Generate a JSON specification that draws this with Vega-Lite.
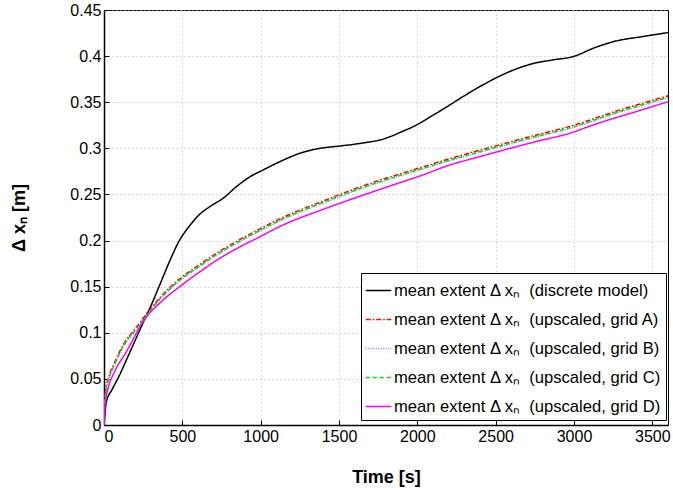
{
  "$schema": "https://vega.github.io/schema/vega-lite/v6.json",
  "autosize": "none",
  "width": 564,
  "height": 415,
  "padding": {"left": 104, "top": 10, "right": 5, "bottom": 67},
  "background": "white",
  "config": {
    "font": "Liberation Sans",
    "view": {"stroke": "black", "strokeWidth": 1},
    "axis": {
      "domainColor": "black",
      "domainWidth": 1.5,
      "tickColor": "black",
      "tickSize": -5,
      "labelPadding": 8,
      "labelFontSize": 16,
      "labelColor": "black",
      "labelFont": "Liberation Sans",
      "titleFont": "Liberation Sans",
      "titleFontSize": 18,
      "titleFontWeight": "bold",
      "titleColor": "black",
      "gridColor": "#b4b4b4",
      "gridDash": [1, 3],
      "gridWidth": 1
    },
    "legend": {
      "orient": "none",
      "legendX": 257,
      "legendY": 263,
      "strokeColor": "black",
      "fillColor": "white",
      "padding": 4,
      "symbolType": "stroke",
      "symbolSize": 650,
      "symbolStrokeWidth": 1.5,
      "labelFont": "Liberation Sans",
      "labelFontSize": 16.6,
      "labelColor": "black",
      "labelLimit": 400,
      "rowPadding": 6,
      "labelOffset": 2
    }
  },
  "data": {
    "values": [
      {"s":"discrete","t":0,"v":0},{"s":"discrete","t":4,"v":0.008},{"s":"discrete","t":15,"v":0.025},{"s":"discrete","t":50,"v":0.038},{"s":"discrete","t":89,"v":0.0506},{"s":"discrete","t":164,"v":0.0785},{"s":"discrete","t":239,"v":0.107},{"s":"discrete","t":313,"v":0.1345},{"s":"discrete","t":356,"v":0.152},{"s":"discrete","t":420,"v":0.178},{"s":"discrete","t":483,"v":0.2006},{"s":"discrete","t":526,"v":0.2115},{"s":"discrete","t":570,"v":0.221},{"s":"discrete","t":611,"v":0.2285},{"s":"discrete","t":675,"v":0.2367},{"s":"discrete","t":760,"v":0.2458},{"s":"discrete","t":845,"v":0.2584},{"s":"discrete","t":930,"v":0.269},{"s":"discrete","t":1015,"v":0.2765},{"s":"discrete","t":1122,"v":0.2855},{"s":"discrete","t":1250,"v":0.2946},{"s":"discrete","t":1378,"v":0.3},{"s":"discrete","t":1505,"v":0.3025},{"s":"discrete","t":1600,"v":0.3045},{"s":"discrete","t":1697,"v":0.307},{"s":"discrete","t":1761,"v":0.309},{"s":"discrete","t":1825,"v":0.3126},{"s":"discrete","t":1900,"v":0.318},{"s":"discrete","t":1974,"v":0.3235},{"s":"discrete","t":2101,"v":0.336},{"s":"discrete","t":2207,"v":0.347},{"s":"discrete","t":2300,"v":0.357},{"s":"discrete","t":2421,"v":0.369},{"s":"discrete","t":2515,"v":0.3775},{"s":"discrete","t":2630,"v":0.386},{"s":"discrete","t":2740,"v":0.392},{"s":"discrete","t":2870,"v":0.396},{"s":"discrete","t":2995,"v":0.3995},{"s":"discrete","t":3130,"v":0.409},{"s":"discrete","t":3272,"v":0.4165},{"s":"discrete","t":3430,"v":0.421},{"s":"discrete","t":3600,"v":0.4255},

      {"s":"A","t":0,"v":0},{"s":"A","t":3,"v":0.026},{"s":"A","t":11,"v":0.038},{"s":"A","t":30,"v":0.052},{"s":"A","t":68,"v":0.068},{"s":"A","t":132,"v":0.0895},{"s":"A","t":196,"v":0.1035},{"s":"A","t":260,"v":0.118},{"s":"A","t":356,"v":0.138},{"s":"A","t":483,"v":0.1585},{"s":"A","t":611,"v":0.174},{"s":"A","t":739,"v":0.1885},{"s":"A","t":866,"v":0.201},{"s":"A","t":994,"v":0.2125},{"s":"A","t":1122,"v":0.2235},{"s":"A","t":1250,"v":0.233},{"s":"A","t":1378,"v":0.2415},{"s":"A","t":1505,"v":0.25},{"s":"A","t":1633,"v":0.258},{"s":"A","t":1761,"v":0.2655},{"s":"A","t":1890,"v":0.2723},{"s":"A","t":2016,"v":0.2788},{"s":"A","t":2207,"v":0.2888},{"s":"A","t":2399,"v":0.298},{"s":"A","t":2516,"v":0.3035},{"s":"A","t":2750,"v":0.314},{"s":"A","t":2900,"v":0.3205},{"s":"A","t":3000,"v":0.325},{"s":"A","t":3150,"v":0.3335},{"s":"A","t":3300,"v":0.342},{"s":"A","t":3450,"v":0.3495},{"s":"A","t":3600,"v":0.357},

      {"s":"B","t":0,"v":0},{"s":"B","t":3,"v":0.019},{"s":"B","t":11,"v":0.035},{"s":"B","t":30,"v":0.049},{"s":"B","t":68,"v":0.065},{"s":"B","t":132,"v":0.087},{"s":"B","t":196,"v":0.101},{"s":"B","t":260,"v":0.1157},{"s":"B","t":356,"v":0.1357},{"s":"B","t":483,"v":0.1562},{"s":"B","t":611,"v":0.1717},{"s":"B","t":739,"v":0.1862},{"s":"B","t":866,"v":0.1987},{"s":"B","t":994,"v":0.2102},{"s":"B","t":1122,"v":0.2212},{"s":"B","t":1250,"v":0.2307},{"s":"B","t":1378,"v":0.2392},{"s":"B","t":1505,"v":0.2476},{"s":"B","t":1633,"v":0.2557},{"s":"B","t":1761,"v":0.2631},{"s":"B","t":1890,"v":0.27},{"s":"B","t":2016,"v":0.2765},{"s":"B","t":2207,"v":0.2865},{"s":"B","t":2399,"v":0.2956},{"s":"B","t":2516,"v":0.3012},{"s":"B","t":2750,"v":0.3117},{"s":"B","t":2900,"v":0.3182},{"s":"B","t":3000,"v":0.3227},{"s":"B","t":3150,"v":0.3312},{"s":"B","t":3300,"v":0.3397},{"s":"B","t":3450,"v":0.3472},{"s":"B","t":3600,"v":0.3547},

      {"s":"C","t":0,"v":0},{"s":"C","t":3,"v":0.02},{"s":"C","t":11,"v":0.036},{"s":"C","t":30,"v":0.05},{"s":"C","t":68,"v":0.066},{"s":"C","t":132,"v":0.088},{"s":"C","t":196,"v":0.102},{"s":"C","t":260,"v":0.1165},{"s":"C","t":356,"v":0.1365},{"s":"C","t":483,"v":0.157},{"s":"C","t":611,"v":0.1725},{"s":"C","t":739,"v":0.187},{"s":"C","t":866,"v":0.1995},{"s":"C","t":994,"v":0.211},{"s":"C","t":1122,"v":0.222},{"s":"C","t":1250,"v":0.2315},{"s":"C","t":1378,"v":0.24},{"s":"C","t":1505,"v":0.2484},{"s":"C","t":1633,"v":0.2565},{"s":"C","t":1761,"v":0.2639},{"s":"C","t":1890,"v":0.2708},{"s":"C","t":2016,"v":0.2773},{"s":"C","t":2207,"v":0.2873},{"s":"C","t":2399,"v":0.2964},{"s":"C","t":2516,"v":0.302},{"s":"C","t":2750,"v":0.3125},{"s":"C","t":2900,"v":0.319},{"s":"C","t":3000,"v":0.3235},{"s":"C","t":3150,"v":0.332},{"s":"C","t":3300,"v":0.3405},{"s":"C","t":3450,"v":0.348},{"s":"C","t":3600,"v":0.3555},

      {"s":"D","t":0,"v":0},{"s":"D","t":3,"v":0.012},{"s":"D","t":11,"v":0.027},{"s":"D","t":30,"v":0.042},{"s":"D","t":68,"v":0.058},{"s":"D","t":143,"v":0.0795},{"s":"D","t":249,"v":0.112},{"s":"D","t":377,"v":0.1355},{"s":"D","t":483,"v":0.15},{"s":"D","t":611,"v":0.166},{"s":"D","t":739,"v":0.1808},{"s":"D","t":866,"v":0.193},{"s":"D","t":994,"v":0.204},{"s":"D","t":1122,"v":0.2152},{"s":"D","t":1250,"v":0.2245},{"s":"D","t":1378,"v":0.2325},{"s":"D","t":1505,"v":0.2404},{"s":"D","t":1633,"v":0.248},{"s":"D","t":1761,"v":0.2555},{"s":"D","t":1890,"v":0.2628},{"s":"D","t":2016,"v":0.27},{"s":"D","t":2207,"v":0.2819},{"s":"D","t":2399,"v":0.291},{"s":"D","t":2516,"v":0.2965},{"s":"D","t":2750,"v":0.307},{"s":"D","t":2985,"v":0.317},{"s":"D","t":3100,"v":0.324},{"s":"D","t":3187,"v":0.329},{"s":"D","t":3400,"v":0.34},{"s":"D","t":3600,"v":0.3506}
    ]
  },
  "mark": {"type": "line", "strokeWidth": 1.5, "clip": true, "interpolate": "monotone"},
  "encoding": {
    "x": {
      "field": "t",
      "type": "quantitative",
      "scale": {"domain": [0, 3600], "nice": false},
      "axis": {"values": [0, 500, 1000, 1500, 2000, 2500, 3000, 3500], "format": "d", "title": "Time [s]", "titlePadding": 24}
    },
    "y": {
      "field": "v",
      "type": "quantitative",
      "scale": {"domain": [0, 0.45], "nice": false},
      "axis": {"values": [0, 0.05, 0.1, 0.15, 0.2, 0.25, 0.3, 0.35, 0.4, 0.45], "format": ".2~f", "title": "Δ xₙ [m]", "titlePadding": 41}
    },
    "color": {
      "field": "s",
      "type": "nominal",
      "scale": {"domain": ["discrete", "A", "B", "C", "D"], "range": ["#000000", "#ff0000", "#8080ff", "#00e000", "#ff00ff"]},
      "legend": {"title": null, "labelExpr": "datum.label == 'discrete' ? 'mean extent Δ xₙ\u00a0 (discrete model)' : 'mean extent Δ xₙ\u00a0 (upscaled, grid ' + datum.label + ')'"}
    },
    "strokeDash": {
      "field": "s",
      "type": "nominal",
      "scale": {"domain": ["discrete", "A", "B", "C", "D"], "range": [[1, 0], [5, 2, 1.5, 2], [1, 1.5], [4, 3], [1, 0]]},
      "legend": {"title": null, "labelExpr": "datum.label == 'discrete' ? 'mean extent Δ xₙ\u00a0 (discrete model)' : 'mean extent Δ xₙ\u00a0 (upscaled, grid ' + datum.label + ')'"}
    }
  }
}
